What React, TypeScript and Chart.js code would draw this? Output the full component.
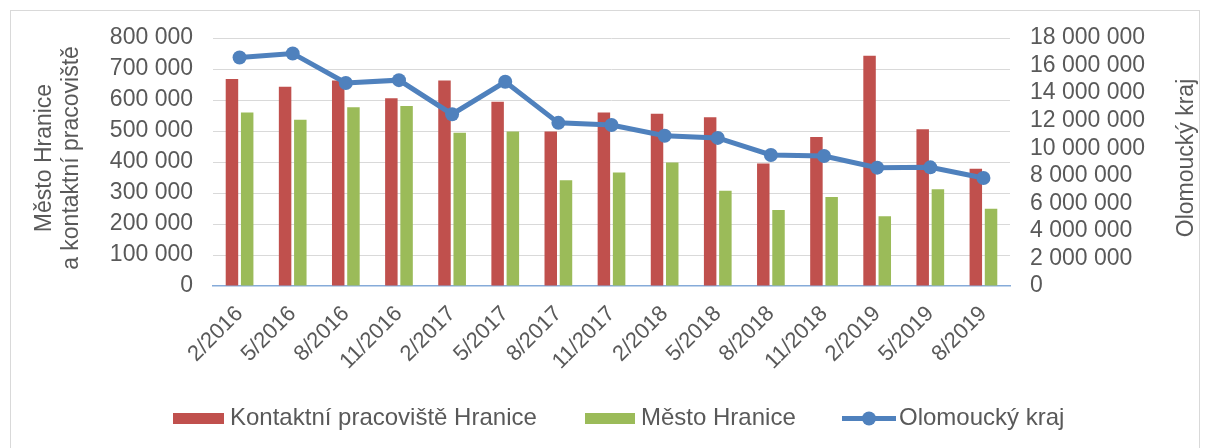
import React, { useEffect, useRef } from 'react';
import { Chart, registerables } from 'chart.js';

Chart.register(...registerables);

const categories = ['2/2016', '5/2016', '8/2016', '11/2016', '2/2017', '5/2017', '8/2017', '11/2017', '2/2018', '5/2018', '8/2018', '11/2018', '2/2019', '5/2019', '8/2019'];
const kontaktniPracoviste = [668000, 643000, 663000, 606000, 663000, 594000, 498000, 560000, 556000, 544000, 395000, 481000, 743000, 506000, 378000];
const mestoHranice = [560000, 536000, 577000, 581000, 494000, 498000, 341000, 366000, 398000, 307000, 245000, 287000, 225000, 312000, 249000];
const olomouckyKraj = [16590000, 16880000, 14730000, 14940000, 12470000, 14820000, 11840000, 11690000, 10910000, 10750000, 9510000, 9440000, 8590000, 8610000, 7840000];

const seriesNames = ['Kontaktní pracoviště Hranice', 'Město Hranice', 'Olomoucký kraj'];
const leftTitleLines = ['Město Hranice', 'a kontaktní pracoviště'];
const rightTitle = 'Olomoucký kraj';
const leftMax = 800000;
const leftStep = 100000;
const rightMax = 18000000;
const rightStep = 2000000;

const RED = '#C0504D';
const GREEN = '#9BBB59';
const BLUE = '#4F81BD';
const TEXT = '#595959';
const GRID = '#D9D9D9';
const FONT = '"Liberation Sans", Arial, sans-serif';

function fmt(v: number): string {
  return String(Math.round(v)).replace(/\B(?=(\d{3})+(?!\d))/g, ' ');
}

const decorPlugin = {
  id: 'decor',
  beforeDraw(chart: any) {
    const ctx = chart.ctx;
    ctx.save();
    ctx.strokeStyle = GRID;
    ctx.lineWidth = 1;
    ctx.strokeRect(10.5, 10.5, 1189, 460);
    ctx.restore();
  },
  afterDraw(chart: any) {
    const ctx = chart.ctx;
    const area = chart.chartArea;
    const cy = (area.top + area.bottom) / 2 - 4;
    ctx.save();
    ctx.fillStyle = TEXT;
    ctx.textAlign = 'center';
    ctx.textBaseline = 'middle';
    ctx.font = `23px ${FONT}`;
    const xs = [45, 72];
    leftTitleLines.forEach((line, i) => {
      ctx.save();
      ctx.translate(xs[i], cy);
      ctx.rotate(-Math.PI / 2);
      ctx.fillText(line, 0, 0);
      ctx.restore();
    });
    ctx.save();
    ctx.translate(1187, cy);
    ctx.rotate(-Math.PI / 2);
    ctx.fillText(rightTitle, 0, 0);
    ctx.restore();

    const ly = 418.5;
    ctx.font = `24px ${FONT}`;
    ctx.textAlign = 'left';
    ctx.fillStyle = RED;
    ctx.fillRect(173, 413, 51, 11);
    ctx.fillStyle = TEXT;
    ctx.fillText(seriesNames[0], 230, ly);
    ctx.fillStyle = GREEN;
    ctx.fillRect(585, 413, 50, 11);
    ctx.fillStyle = TEXT;
    ctx.fillText(seriesNames[1], 641, ly);
    ctx.strokeStyle = BLUE;
    ctx.lineWidth = 5;
    ctx.beginPath();
    ctx.moveTo(842, ly);
    ctx.lineTo(896, ly);
    ctx.stroke();
    ctx.fillStyle = BLUE;
    ctx.beginPath();
    ctx.arc(869, ly, 7, 0, Math.PI * 2);
    ctx.fill();
    ctx.fillStyle = TEXT;
    ctx.fillText(seriesNames[2], 899, ly);
    ctx.restore();
  },
};

export default function App() {
  const ref = useRef<HTMLCanvasElement | null>(null);

  useEffect(() => {
    if (!ref.current) return;
    const chart = new Chart(ref.current, {
      type: 'bar',
      data: {
        labels: categories,
        datasets: [
          {
            type: 'line',
            label: seriesNames[2],
            data: olomouckyKraj,
            yAxisID: 'y1',
            borderColor: BLUE,
            backgroundColor: BLUE,
            borderWidth: 5,
            pointRadius: 7,
            pointBorderWidth: 0,
            pointBackgroundColor: BLUE,
            tension: 0,
            order: 0,
          } as any,
          {
            type: 'bar',
            label: seriesNames[0],
            data: kontaktniPracoviste,
            yAxisID: 'y',
            backgroundColor: RED,
            categoryPercentage: 0.573,
            barPercentage: 0.82,
            order: 1,
          },
          {
            type: 'bar',
            label: seriesNames[1],
            data: mestoHranice,
            yAxisID: 'y',
            backgroundColor: GREEN,
            categoryPercentage: 0.573,
            barPercentage: 0.82,
            order: 2,
          },
        ],
      },
      options: {
        animation: false,
        responsive: false,
        devicePixelRatio: 1,
        layout: { padding: { left: 0, right: 0, top: 38, bottom: 0 } },
        plugins: {
          legend: { display: false },
          tooltip: { enabled: false },
          title: { display: false },
        },
        scales: {
          x: {
            type: 'category',
            offset: true,
            grid: { display: false, drawTicks: false },
            border: { display: true, color: '#86ABD9', width: 1.5 },
            ticks: {
              color: TEXT,
              font: { family: FONT, size: 22 },
              minRotation: 45,
              maxRotation: 45,
              padding: 15,
              autoSkip: false,
            },
            afterFit: (s: any) => { s.height = 162; },
          },
          y: {
            type: 'linear',
            position: 'left',
            min: 0,
            max: leftMax,
            grid: {
              color: (c: any) => (c.tick && c.tick.value === 0 ? 'rgba(0,0,0,0)' : GRID),
              lineWidth: 1,
              drawTicks: false,
            },
            border: { display: false },
            ticks: {
              stepSize: leftStep,
              color: TEXT,
              font: { family: FONT, size: 23 },
              padding: 20,
              autoSkip: false,
              callback: (v: any) => fmt(Number(v)),
            },
            afterFit: (s: any) => { s.width = 213; },
          },
          y1: {
            type: 'linear',
            position: 'right',
            min: 0,
            max: rightMax,
            grid: { display: false, drawTicks: false },
            border: { display: false },
            ticks: {
              stepSize: rightStep,
              color: TEXT,
              font: { family: FONT, size: 23 },
              padding: 20,
              autoSkip: false,
              callback: (v: any) => fmt(Number(v)),
            },
            afterFit: (s: any) => { s.width = 197; },
          },
        },
      },
      plugins: [decorPlugin],
    });
    return () => chart.destroy();
  }, []);

  return (
    <div style={{ position: 'absolute', left: 0, top: 0, width: 1207, height: 448, background: '#fff' }}>
      <canvas ref={ref} width={1207} height={448} style={{ display: 'block' }} />
    </div>
  );
}
